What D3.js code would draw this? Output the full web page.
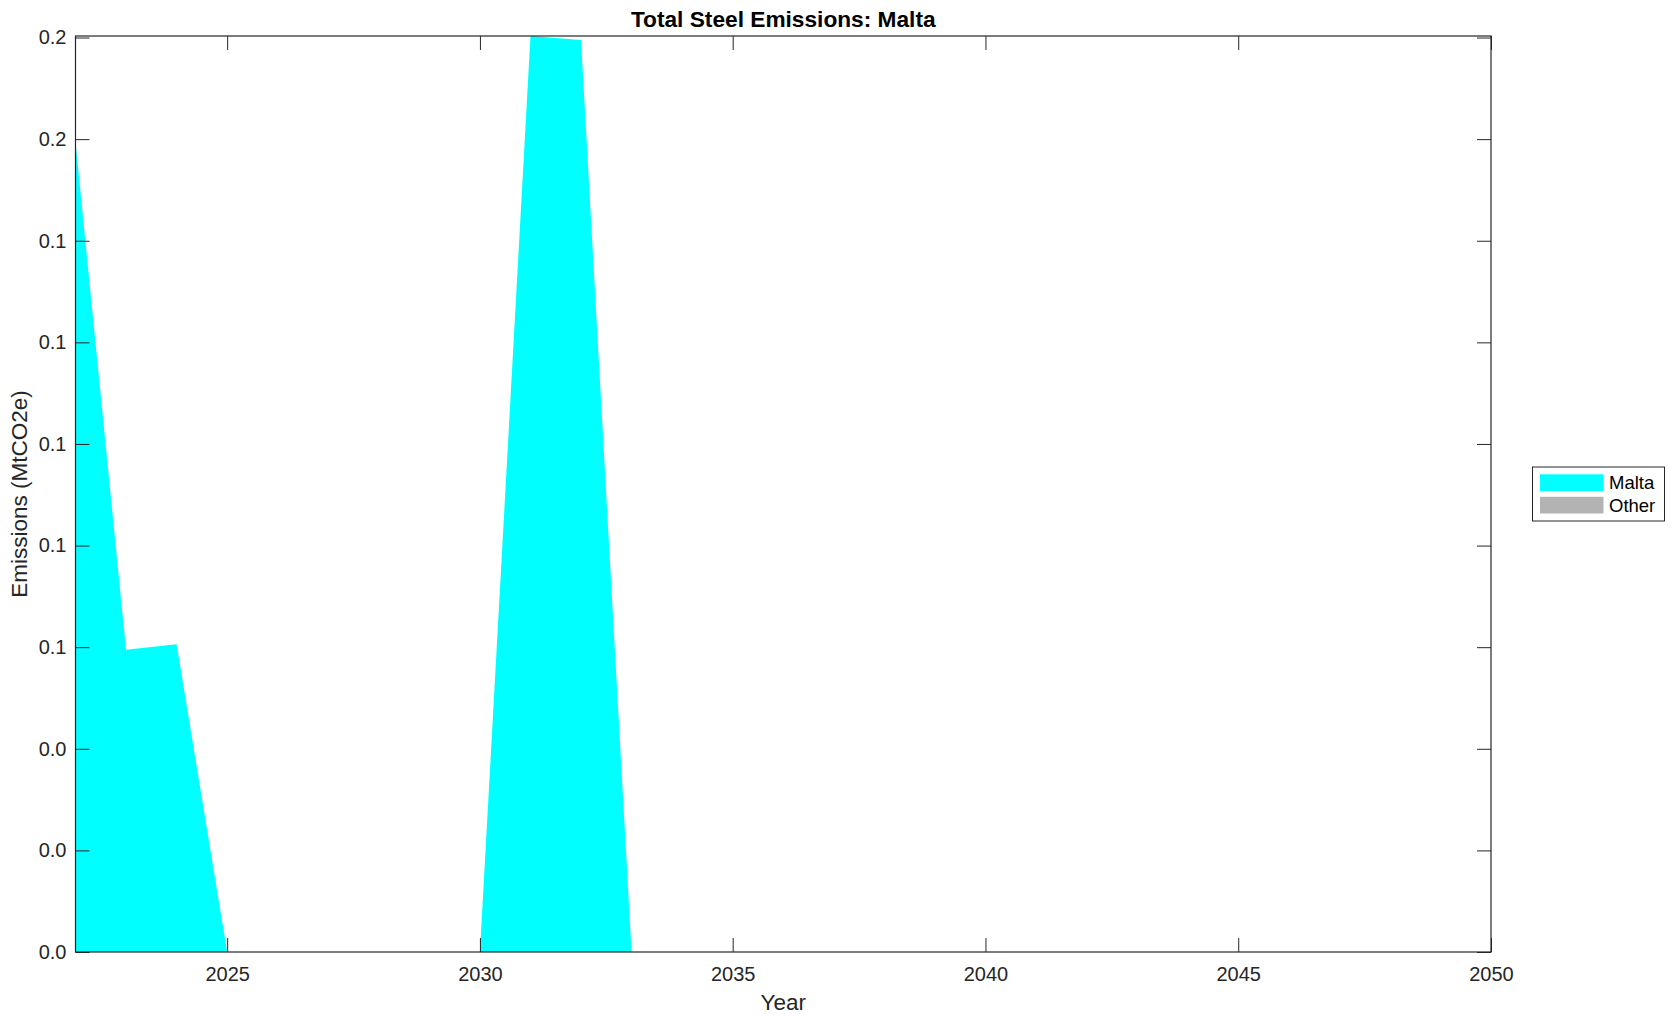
<!DOCTYPE html>
<html>
<head>
<meta charset="utf-8">
<script src="https://cdn.jsdelivr.net/npm/d3@7"></script>
<style>
  html, body { margin: 0; padding: 0; background: #ffffff; }
  svg { display: block; font-family: "Liberation Sans", Arial, Helvetica, sans-serif; }
</style>
</head>
<body>
<svg id="chart" width="1675" height="1021"></svg>
<script>
// ---- data ----
const years = [2022, 2023, 2024, 2025, 2026, 2027, 2028, 2029, 2030, 2031, 2032, 2033, 2034, 2035,
               2036, 2037, 2038, 2039, 2040, 2041, 2042, 2043, 2044, 2045, 2046, 2047, 2048, 2049, 2050];
const maltaValues = [0.1595, 0.0595, 0.0606, 0, 0, 0, 0, 0, 0, 0.1803, 0.1795, 0, 0, 0,
                     0, 0, 0, 0, 0, 0, 0, 0, 0, 0, 0, 0, 0, 0, 0];
const otherValues = [0, 0, 0, 0, 0, 0, 0, 0, 0, 0, 0, 0, 0, 0,
                     0, 0, 0, 0, 0, 0, 0, 0, 0, 0, 0, 0, 0, 0, 0];
const seriesNames = ["Malta", "Other"];
const seriesColors = ["#00ffff", "#b3b3b3"];
const xTickValues = [2025, 2030, 2035, 2040, 2045, 2050];
const yTickValues = [0, 0.02, 0.04, 0.06, 0.08, 0.10, 0.12, 0.14, 0.16, 0.18];
const titleText = "Total Steel Emissions: Malta";
const xLabelText = "Year";
const yLabelText = "Emissions (MtCO2e)";

(function () {
// ---- layout ----
const pL = 75.5, pR = 1491, pT = 36, pB = 952;
const axisColor = "#262626";
const tickLen = 14;

const svg = d3.select("#chart");

const table = years.map((yr, i) => ({ year: yr, Malta: maltaValues[i], Other: otherValues[i] }));
const stacked = d3.stack().keys(seriesNames)(table);
const yMax = d3.max(stacked[stacked.length - 1], d => d[1]);

const x = d3.scaleLinear().domain([d3.min(years), d3.max(years)]).range([pL, pR]);
const y = d3.scaleLinear().domain([0, yMax]).range([pB, pT]);

svg.append("defs").append("clipPath").attr("id", "plotClip")
  .append("rect").attr("x", pL).attr("y", pT).attr("width", pR - pL).attr("height", pB - pT);

const area = d3.area()
  .x(d => x(d.data.year))
  .y0(d => y(d[0]))
  .y1(d => y(d[1]));

svg.append("g").attr("clip-path", "url(#plotClip)")
  .selectAll("path").data(stacked).join("path")
  .attr("d", area)
  .attr("fill", (d, i) => seriesColors[i])
  .attr("stroke", "none");

const fmt = d3.format(".1f");
const xAxisB = d3.axisBottom(x).tickValues(xTickValues).tickFormat(d3.format("d")).tickSizeInner(-tickLen).tickSizeOuter(0).tickPadding(15);
const xAxisT = d3.axisTop(x).tickValues(xTickValues).tickFormat("").tickSizeInner(-tickLen).tickSizeOuter(0);
const yAxisL = d3.axisLeft(y).tickValues(yTickValues).tickFormat(fmt).tickSizeInner(-tickLen).tickSizeOuter(0).tickPadding(9);
const yAxisR = d3.axisRight(y).tickValues(yTickValues).tickFormat("").tickSizeInner(-tickLen).tickSizeOuter(0);

function styleAxis(g) {
  g.select(".domain").remove();
  g.selectAll(".tick line").attr("stroke", axisColor).attr("stroke-width", 1);
  g.selectAll(".tick text").attr("fill", axisColor).attr("font-size", 20)
    .attr("font-family", "'Liberation Sans', Arial, Helvetica, sans-serif");
}

svg.append("g").attr("transform", `translate(0,${pB})`).call(xAxisB).call(styleAxis);
svg.append("g").attr("transform", `translate(0,${pT})`).call(xAxisT).call(styleAxis);
svg.append("g").attr("transform", `translate(${pL},0)`).call(yAxisL).call(styleAxis);
svg.append("g").attr("transform", `translate(${pR},0)`).call(yAxisR).call(styleAxis);

svg.append("rect")
  .attr("x", pL).attr("y", pT).attr("width", pR - pL).attr("height", pB - pT)
  .attr("fill", "none").attr("stroke", axisColor).attr("stroke-width", 1.2);

svg.append("text")
  .attr("x", (pL + pR) / 2).attr("y", 27)
  .attr("text-anchor", "middle")
  .attr("font-size", 22.7).attr("font-weight", "bold").attr("fill", "#000")
  .text(titleText);

svg.append("text")
  .attr("x", (pL + pR) / 2).attr("y", 1010)
  .attr("text-anchor", "middle")
  .attr("font-size", 22.5).attr("fill", axisColor)
  .text(xLabelText);

svg.append("text")
  .attr("transform", `translate(27,${(pT + pB) / 2}) rotate(-90)`)
  .attr("text-anchor", "middle")
  .attr("font-size", 22.5).attr("fill", axisColor)
  .text(yLabelText);

const lg = svg.append("g");
lg.append("rect")
  .attr("x", 1532.5).attr("y", 467).attr("width", 132).attr("height", 54)
  .attr("fill", "#fff").attr("stroke", axisColor).attr("stroke-width", 1);
seriesNames.forEach((name, i) => {
  const cy = 482.7 + i * 22.5;
  lg.append("rect")
    .attr("x", 1540).attr("y", cy - 8.4).attr("width", 63.5).attr("height", 16.7)
    .attr("fill", seriesColors[i]);
  lg.append("text")
    .attr("x", 1609).attr("y", cy).attr("dy", "0.35em")
    .attr("font-size", 18.5).attr("fill", "#000")
    .text(name);
});
})();
</script>
</body>
</html>
